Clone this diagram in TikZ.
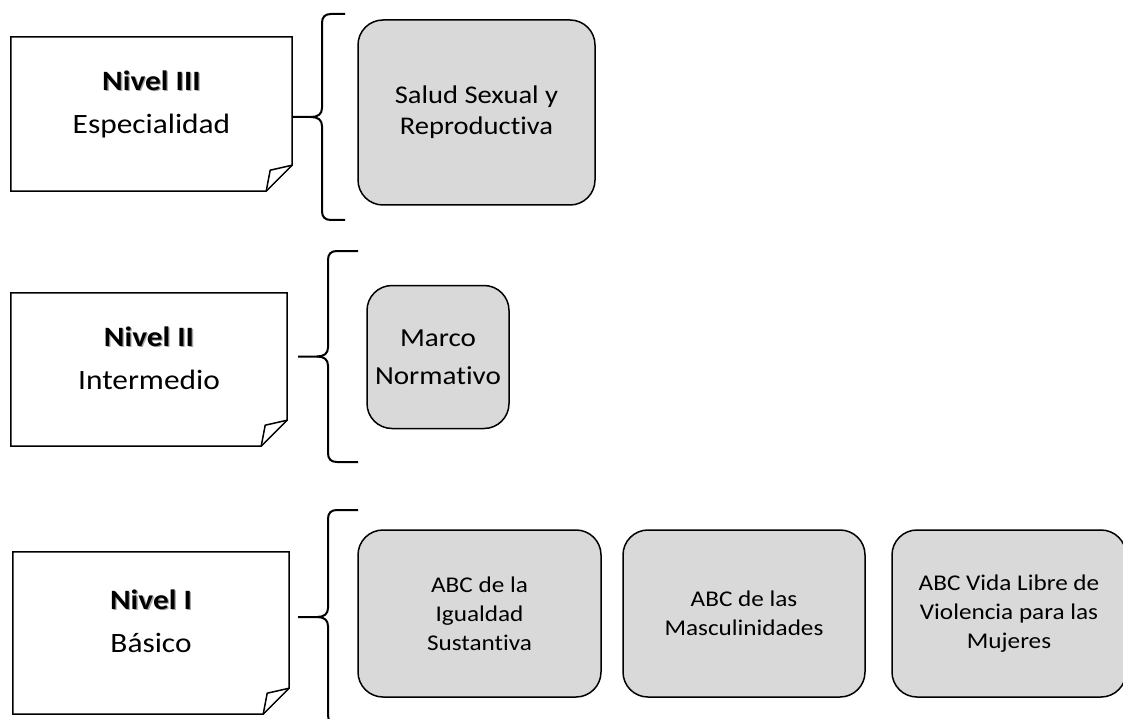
\documentclass[tikz,border=0pt]{standalone}
\usepackage{fontspec}
\setmainfont{Carlito}[FakeStretch=1.12, Ligatures=NoCommon]
\usepackage{xcolor}
\usepackage{tikz}
\usetikzlibrary{calc}

\definecolor{gris}{HTML}{D9D9D9}
\newcommand{\resalta}[1]{\textbf{\rlap{\color{black!35}\kern1.3pt\raisebox{-1.3pt}{#1}}#1}}

\tikzset{
  nota/.style={draw=none, inner sep=0pt},
  borde/.style={line width=1.5pt, line join=miter},
  notatxt/.style={align=center, inner sep=0pt, font=\fontsize{28}{43}\selectfont},
  caja/.style={draw, fill=gris, line width=1.5pt, rounded corners=25pt, align=center, inner sep=0pt},
  llave/.style={line width=2pt, line join=round}
}

\begin{document}
\begin{tikzpicture}[x=1pt, y=-1pt]
        \useasboundingbox (0,0) rectangle (1123,719);

        % Notes (levels)
        \node[nota, minimum width=281pt, minimum height=154pt] (nota1) at (151.5,114) {};
        \node[nota, minimum width=276pt, minimum height=153pt] (nota2) at (149,369.5) {};
        \node[nota, minimum width=276pt, minimum height=162pt] (nota3) at (151,633) {};

        \foreach \n in {nota1,nota2,nota3} {
          \draw[borde] (\n.north west) -- (\n.north east) -- ([yshift=26pt]\n.south east)
                -- ([xshift=-26pt]\n.south east) -- (\n.south west) -- cycle;
          % folded corner
          \draw[borde] ([xshift=-26pt]\n.south east) -- ([xshift=-22pt,yshift=21pt]\n.south east)
                -- ([yshift=26pt]\n.south east);
        }

        \node[notatxt] (txt1) at (151.5,104.5) {\resalta{Nivel III}\\Especialidad};
        \node[notatxt] (txt2) at (149,358) {\resalta{Nivel II}\\Intermedio};
        \node[notatxt] (txt3) at (151,621) {\resalta{Nivel I}\\Básico};

        % Courses
        \node[caja, minimum width=237pt, minimum height=185pt, font=\fontsize{25.5}{31}\selectfont]
              (salud) at (476.5,112.5) {Salud Sexual y\\Reproductiva};
        \node[caja, minimum width=142pt, minimum height=143pt, font=\fontsize{26}{38}\selectfont]
              (marco) at (438,357) {Marco\\Normativo};
        \node[caja, minimum width=243pt, minimum height=167pt, font=\fontsize{22.5}{29}\selectfont]
              (igualdad) at (479.5,613.5) {ABC de la\\Igualdad\\Sustantiva};
        \node[caja, minimum width=242pt, minimum height=167pt, font=\fontsize{22.5}{29}\selectfont]
              (masculino) at (744,613.5) {ABC de las\\Masculinidades};
        \node[caja, minimum width=234pt, minimum height=167pt, font=\fontsize{22.5}{29}\selectfont]
              (violencia) at (1009,613.5) {ABC Vida Libre de\\Violencia para las\\Mujeres};

        % Braces
        \coordinate (sup1) at (322,14);  \coordinate (inf1) at (322,220);
        \coordinate (sup2) at (328,251); \coordinate (inf2) at (328,462);
        \coordinate (sup3) at (328,510); \coordinate (inf3) at (328,724);

        \foreach \i/\g in {1/23,2/30,3/30} {
          \coordinate (m\i) at ($(sup\i)!.5!(inf\i)$);
          \draw[llave] ($(sup\i)+(\g,0)$) -- ($(sup\i)+(9,0)$) .. controls +(-6,0) and +(0,-6) .. ($(sup\i)+(0,9)$)
                -- ($(m\i)+(0,-9)$) .. controls +(0,6) and +(7,0) .. ($(m\i)+(-11,0)$) -- ($(m\i)+(-30,0)$);
          \draw[llave] ($(m\i)+(-11,0)$) .. controls +(7,0) and +(0,-6) .. ($(m\i)+(0,9)$)
                -- ($(inf\i)+(0,-9)$) .. controls +(0,6) and +(-6,0) .. ($(inf\i)+(9,0)$) -- ($(inf\i)+(\g,0)$);
        }
    \end{tikzpicture}
\end{document}
